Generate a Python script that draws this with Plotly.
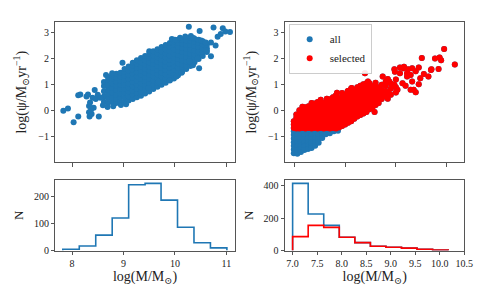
import plotly.graph_objects as go

# ---------------- data ----------------
# Top-left panel: log stellar mass vs log SFR (full sample, scattered points)
tl_sparse = [(7.83, 0.00), (7.92, 0.09), (8.03, -0.44), (8.12, -0.22), (8.12, 0.60), (8.16, 0.63),
             (8.28, 0.55), (8.31, 0.63), (8.33, 0.19), (8.33, -0.05), (8.34, -0.22), (8.38, -0.12),
             (8.35, 0.32), (8.44, 0.80), (8.40, 0.50), (8.52, -0.22), (8.60, 0.21), (8.69, 0.15),
             (8.46, 0.45), (8.50, 0.62), (8.55, 0.50), (8.42, 0.12), (8.37, 0.05), (8.98, 1.84),
             (8.80, 0.18), (8.95, 0.22), (9.05, 0.25), (8.66, 1.37), (8.78, 1.44),
             (10.27, 3.22), (10.48, 3.06), (10.75, 3.19), (10.93, 3.16), (10.98, 3.04), (11.07, 3.02),
             (10.89, 2.94), (10.83, 2.84), (10.31, 2.87), (10.36, 2.79), (10.51, 2.69), (10.60, 2.62),
             (10.70, 2.62), (10.79, 2.50), (10.70, 2.09), (10.62, 2.31), (10.44, 2.00), (10.47, 1.63),
             (10.35, 1.75), (10.28, 1.90), (10.13, 1.46), (10.03, 1.31), (9.90, 1.16), (9.94, 2.75),
             (10.00, 2.72), (9.68, 1.12), (9.49, 0.87), (10.20, 2.85), (10.10, 2.80)]
# dense core of the top-left cloud, grouped by mass column: (mass, [sfr values])
tl_core = [
    (8.62, [0.35, 0.55, 0.75, 0.95, 1.10]),
    (8.70, [0.30, 0.48, 0.65, 0.82, 1.00, 1.18, 1.30]),
    (8.78, [0.35, 0.52, 0.70, 0.88, 1.05, 1.22, 1.36]),
    (8.86, [0.30, 0.45, 0.62, 0.80, 0.97, 1.12, 1.28, 1.42]),
    (8.94, [0.32, 0.50, 0.66, 0.84, 1.00, 1.16, 1.32, 1.46]),
    (9.02, [0.35, 0.52, 0.70, 0.86, 1.02, 1.18, 1.34, 1.50, 1.60]),
    (9.10, [0.40, 0.56, 0.72, 0.90, 1.05, 1.22, 1.38, 1.54, 1.70]),
    (9.18, [0.45, 0.62, 0.78, 0.94, 1.10, 1.26, 1.42, 1.58, 1.74, 1.84]),
    (9.26, [0.52, 0.68, 0.84, 1.00, 1.16, 1.32, 1.48, 1.64, 1.80, 1.94]),
    (9.34, [0.58, 0.74, 0.90, 1.06, 1.22, 1.38, 1.54, 1.70, 1.86, 2.02]),
    (9.42, [0.66, 0.82, 0.98, 1.14, 1.30, 1.46, 1.62, 1.78, 1.94, 2.10]),
    (9.50, [0.74, 0.90, 1.06, 1.22, 1.38, 1.54, 1.70, 1.86, 2.02, 2.18, 2.28]),
    (9.58, [0.84, 1.00, 1.16, 1.32, 1.48, 1.64, 1.80, 1.96, 2.12, 2.28]),
    (9.66, [0.92, 1.08, 1.24, 1.40, 1.56, 1.72, 1.88, 2.04, 2.20, 2.36]),
    (9.74, [1.00, 1.16, 1.32, 1.48, 1.64, 1.80, 1.96, 2.12, 2.28, 2.44]),
    (9.82, [1.08, 1.24, 1.40, 1.56, 1.72, 1.88, 2.04, 2.20, 2.36, 2.52]),
    (9.90, [1.18, 1.32, 1.48, 1.64, 1.80, 1.96, 2.12, 2.28, 2.44, 2.60]),
    (9.98, [1.24, 1.40, 1.56, 1.72, 1.88, 2.04, 2.20, 2.36, 2.52, 2.66]),
    (10.06, [1.36, 1.50, 1.66, 1.82, 1.98, 2.14, 2.30, 2.46, 2.62, 2.72]),
    (10.14, [1.50, 1.62, 1.78, 1.94, 2.10, 2.26, 2.42, 2.58, 2.72]),
    (10.22, [1.60, 1.74, 1.90, 2.06, 2.22, 2.38, 2.54, 2.70]),
    (10.30, [1.72, 1.88, 2.04, 2.20, 2.36, 2.52, 2.68, 2.80]),
    (10.38, [1.86, 2.00, 2.16, 2.32, 2.48, 2.64, 2.76]),
    (10.46, [1.98, 2.12, 2.28, 2.44, 2.60, 2.72]),
    (10.54, [2.10, 2.25, 2.40, 2.55, 2.66]),
    (10.62, [2.25, 2.40, 2.52]),
]

# Top-right panel: low-mass sample; points below the SFR cut (not selected)
tr_unsel_core = [
    (6.99, [-0.78, -0.92, -1.06, -1.20, -1.34, -1.48, -1.62]),
    (7.06, [-0.80, -0.94, -1.08, -1.22, -1.36, -1.50, -1.64]),
    (7.13, [-0.78, -0.92, -1.06, -1.20, -1.34, -1.48, -1.58]),
    (7.20, [-0.80, -0.94, -1.08, -1.22, -1.36, -1.50]),
    (7.27, [-0.78, -0.92, -1.06, -1.20, -1.34, -1.46]),
    (7.34, [-0.80, -0.94, -1.08, -1.22, -1.36, -1.42]),
    (7.41, [-0.78, -0.92, -1.06, -1.20, -1.34]),
    (7.48, [-0.80, -0.94, -1.08, -1.22]),
    (7.55, [-0.78, -0.92, -1.04]),
    (7.62, [-0.78, -0.90]),
    (7.70, [-0.80, -0.86]),
    (7.78, [-0.78]),
    (7.86, [-0.76]),
]
# selected points (above the SFR cut)
tr_sel_core = [
    (6.99, [-0.66, -0.52, -0.40]),
    (7.04, [-0.68, -0.54, -0.40, -0.26, -0.14]),
    (7.10, [-0.68, -0.54, -0.40, -0.26, -0.12, 0.02]),
    (7.16, [-0.66, -0.52, -0.38, -0.24, -0.10, 0.04, 0.16]),
    (7.22, [-0.68, -0.54, -0.40, -0.26, -0.12, 0.02, 0.14]),
    (7.28, [-0.66, -0.52, -0.38, -0.24, -0.10, 0.04, 0.18]),
    (7.34, [-0.68, -0.54, -0.40, -0.26, -0.12, 0.02, 0.16, 0.30]),
    (7.40, [-0.66, -0.52, -0.38, -0.24, -0.10, 0.04, 0.18, 0.28]),
    (7.46, [-0.68, -0.54, -0.40, -0.26, -0.12, 0.02, 0.16, 0.34]),
    (7.52, [-0.66, -0.52, -0.38, -0.24, -0.10, 0.04, 0.18, 0.30, 0.42]),
    (7.58, [-0.68, -0.54, -0.40, -0.26, -0.12, 0.02, 0.16, 0.30]),
    (7.64, [-0.66, -0.52, -0.38, -0.24, -0.10, 0.04, 0.18, 0.32, 0.46]),
    (7.70, [-0.68, -0.54, -0.40, -0.26, -0.12, 0.02, 0.16, 0.30, 0.44]),
    (7.76, [-0.66, -0.52, -0.38, -0.24, -0.10, 0.04, 0.18, 0.32, 0.52]),
    (7.82, [-0.68, -0.54, -0.40, -0.26, -0.12, 0.02, 0.16, 0.30, 0.44, 0.60]),
    (7.88, [-0.64, -0.50, -0.36, -0.22, -0.08, 0.06, 0.20, 0.34, 0.48]),
    (7.94, [-0.58, -0.44, -0.30, -0.16, -0.02, 0.12, 0.26, 0.40, 0.54, 0.68]),
    (8.00, [-0.52, -0.38, -0.24, -0.10, 0.04, 0.18, 0.32, 0.46, 0.60]),
    (8.06, [-0.46, -0.32, -0.18, -0.04, 0.10, 0.24, 0.38, 0.52, 0.66, 0.76]),
    (8.12, [-0.40, -0.26, -0.12, 0.02, 0.16, 0.30, 0.44, 0.58, 0.72, 0.86]),
    (8.18, [-0.30, -0.16, -0.02, 0.12, 0.26, 0.40, 0.54, 0.68, 0.80]),
    (8.24, [-0.22, -0.08, 0.06, 0.20, 0.34, 0.48, 0.62, 0.76, 0.90]),
    (8.30, [-0.16, -0.02, 0.12, 0.26, 0.40, 0.54, 0.68, 0.82, 0.96]),
    (8.36, [-0.10, 0.04, 0.18, 0.32, 0.46, 0.60, 0.74, 0.88, 1.02]),
    (8.42, [-0.04, 0.10, 0.24, 0.38, 0.52, 0.66, 0.80, 0.94]),
    (8.48, [0.06, 0.20, 0.34, 0.48, 0.62, 0.76, 0.90, 1.06]),
    (8.54, [0.14, 0.30, 0.46, 0.62, 0.78, 0.94]),
    (8.60, [0.22, 0.40, 0.58, 0.76, 0.92, 1.08]),
    (8.66, [0.30, 0.50, 0.70, 0.88]),
    (8.72, [0.45, 0.62, 0.80, 1.00]),
    (8.80, [0.55, 0.75, 0.95, 1.12]),
    (8.90, [0.62, 0.85, 1.05]),
    (9.00, [0.70, 0.90, 1.20]),
]
tr_sel_sparse = [(9.95, 2.37), (9.51, 2.02), (9.77, 2.00), (9.86, 2.04), (9.89, 1.94), (10.16, 1.77),
                 (9.69, 1.56), (9.84, 1.60), (9.55, 1.41), (9.48, 1.25), (9.39, 1.52), (9.29, 1.37),
                 (9.22, 1.31), (9.32, 1.12), (9.45, 1.02), (9.35, 0.81), (9.39, 0.71), (9.29, 0.81),
                 (9.19, 0.96), (9.13, 1.06), (9.08, 1.66), (9.15, 1.63), (9.24, 1.59), (9.22, 1.44),
                 (8.98, 1.50), (9.08, 1.44), (8.84, 1.22), (8.87, 1.12), (8.74, 1.31), (8.97, 1.00),
                 (9.03, 0.81), (8.84, 0.46), (8.58, -0.04), (8.39, 1.44), (8.51, 0.94), (8.49, 0.56),
                 (8.61, 0.38), (8.64, 0.69), (8.45, 0.81), (9.64, 1.31), (9.45, 1.66), (9.32, 1.63),
                 (8.61, 0.94), (8.85, 0.69), (8.26, 0.75), (8.32, 0.94), (8.42, 1.06), (8.45, 1.12),
                 (7.84, 0.69), (8.05, 0.75), (8.13, 0.87), (9.16, 1.69), (8.97, 1.59), (9.70, 1.59)]

# Bottom-left histogram (full sample)
bl_edges = [7.82, 8.14, 8.46, 8.78, 9.10, 9.42, 9.73, 10.05, 10.37, 10.69, 11.01]
bl_counts = [5, 17, 57, 120, 243, 248, 186, 86, 29, 10]

# Bottom-right histograms (low-mass sample)
br_edges = [7.00, 7.317, 7.634, 7.951, 8.268, 8.585, 8.902, 9.219, 9.536, 9.853, 10.17]
br_all = [414, 225, 155, 82, 49, 27, 21, 15, 8, 4]
br_sel = [86, 155, 143, 82, 49, 27, 21, 15, 8, 4]

tl_ticks = [8, 9, 10, 11]
tr_ticks = [7, 8, 9, 10]
br_ticks = [7.0, 7.5, 8.0, 8.5, 9.0, 9.5, 10.0, 10.5]
sfr_ticks = [-1, 0, 1, 2, 3]

BLUE = "#1f77b4"
RED = "#ff0000"
FONT = "Liberation Serif, DejaVu Serif, serif"


def flatten(core, sparse=()):
    xs, ys = [], []
    for m, vals in core:
        for v in vals:
            xs.append(m)
            ys.append(v)
    for m, v in sparse:
        xs.append(m)
        ys.append(v)
    return xs, ys


def steps(edges, counts):
    xs, ys = [edges[0]], [0]
    for i, c in enumerate(counts):
        xs += [edges[i], edges[i + 1]]
        ys += [c, c]
    xs.append(edges[-1])
    ys.append(0)
    return xs, ys


tl_x, tl_y = flatten(tl_core, tl_sparse)
un_x, un_y = flatten(tr_unsel_core)
sel_x, sel_y = flatten(tr_sel_core, tr_sel_sparse)
all_x, all_y = un_x + sel_x, un_y + sel_y

fig = go.Figure()
mk = dict(size=6, line=dict(width=0))
fig.add_trace(go.Scatter(x=tl_x, y=tl_y, mode="markers", marker=dict(color=BLUE, **mk),
                         xaxis="x", yaxis="y", showlegend=False))
fig.add_trace(go.Scatter(x=all_x, y=all_y, mode="markers", marker=dict(color=BLUE, **mk),
                         xaxis="x2", yaxis="y2", name="all"))
fig.add_trace(go.Scatter(x=sel_x, y=sel_y, mode="markers", marker=dict(color=RED, **mk),
                         xaxis="x2", yaxis="y2", name="selected"))

hx, hy = steps(bl_edges, bl_counts)
fig.add_trace(go.Scatter(x=hx, y=hy, mode="lines", line=dict(color=BLUE, width=1.6),
                         xaxis="x3", yaxis="y3", showlegend=False))
hx, hy = steps(br_edges, br_all)
fig.add_trace(go.Scatter(x=hx, y=hy, mode="lines", line=dict(color=BLUE, width=1.6),
                         xaxis="x4", yaxis="y4", showlegend=False))
hx, hy = steps(br_edges, br_sel)
fig.add_trace(go.Scatter(x=hx, y=hy, mode="lines", line=dict(color=RED, width=1.6),
                         xaxis="x4", yaxis="y4", showlegend=False))

W, H = 485, 291
LX = [48.3 / W, 231 / W]
RX = [282.3 / W, 465 / W]
TY = [1 - 157.3 / H, 1 - 14.7 / H]
BY = [1 - 247.7 / H, 1 - 175.7 / H]

ax = dict(showline=True, linecolor="#555", linewidth=1, mirror=True, ticks="outside",
          ticklen=3.5, tickwidth=1, tickcolor="#555", showgrid=False, zeroline=False,
          tickfont=dict(family=FONT, size=10, color="#222"))
ylab = "log(ψ/M<sub>⊙</sub>yr<sup>−1</sup>)"
xlab = "log(M/M<sub>⊙</sub>)"
tfont = dict(family=FONT, size=14, color="#222")

fig.update_layout(
    width=W, height=H, margin=dict(l=0, r=0, t=0, b=0),
    paper_bgcolor="white", plot_bgcolor="white",
    font=dict(family=FONT, color="#222"),
    xaxis=dict(ax, domain=LX, range=[7.676, 11.162], tickvals=tl_ticks, showticklabels=False, anchor="y"),
    yaxis=dict(ax, domain=TY, range=[-1.961, 3.386], tickvals=sfr_ticks, anchor="x",
               title=dict(text=ylab, font=tfont, standoff=8)),
    xaxis2=dict(ax, domain=RX, range=[6.818, 10.348], tickvals=tr_ticks, showticklabels=False, anchor="y2"),
    yaxis2=dict(ax, domain=TY, range=[-1.961, 3.386], tickvals=sfr_ticks, anchor="x2",
                title=dict(text=ylab, font=tfont, standoff=8)),
    xaxis3=dict(ax, domain=LX, range=[7.676, 11.162], tickvals=tl_ticks, anchor="y3",
                title=dict(text=xlab, font=tfont, standoff=0)),
    yaxis3=dict(ax, domain=BY, range=[0, 260], tickvals=[0, 100, 200], anchor="x3",
                title=dict(text="N", font=dict(family=FONT, size=13, color="#222"), standoff=7)),
    xaxis4=dict(ax, domain=RX, range=[6.846, 10.5], tickvals=br_ticks, tickformat=".1f", anchor="y4",
                title=dict(text=xlab, font=tfont, standoff=0)),
    yaxis4=dict(ax, domain=BY, range=[0, 434], tickvals=[0, 200, 400], anchor="x4",
                title=dict(text="N", font=dict(family=FONT, size=13, color="#222"), standoff=7)),
    legend=dict(x=286 / W, y=1 - 16 / H, xanchor="left", yanchor="top",
                bgcolor="rgba(255,255,255,0.9)", bordercolor="#cccccc", borderwidth=1,
                font=dict(family=FONT, size=11, color="#222"), itemwidth=30,
                tracegroupgap=0),
)

fig.write_html("out.html")
